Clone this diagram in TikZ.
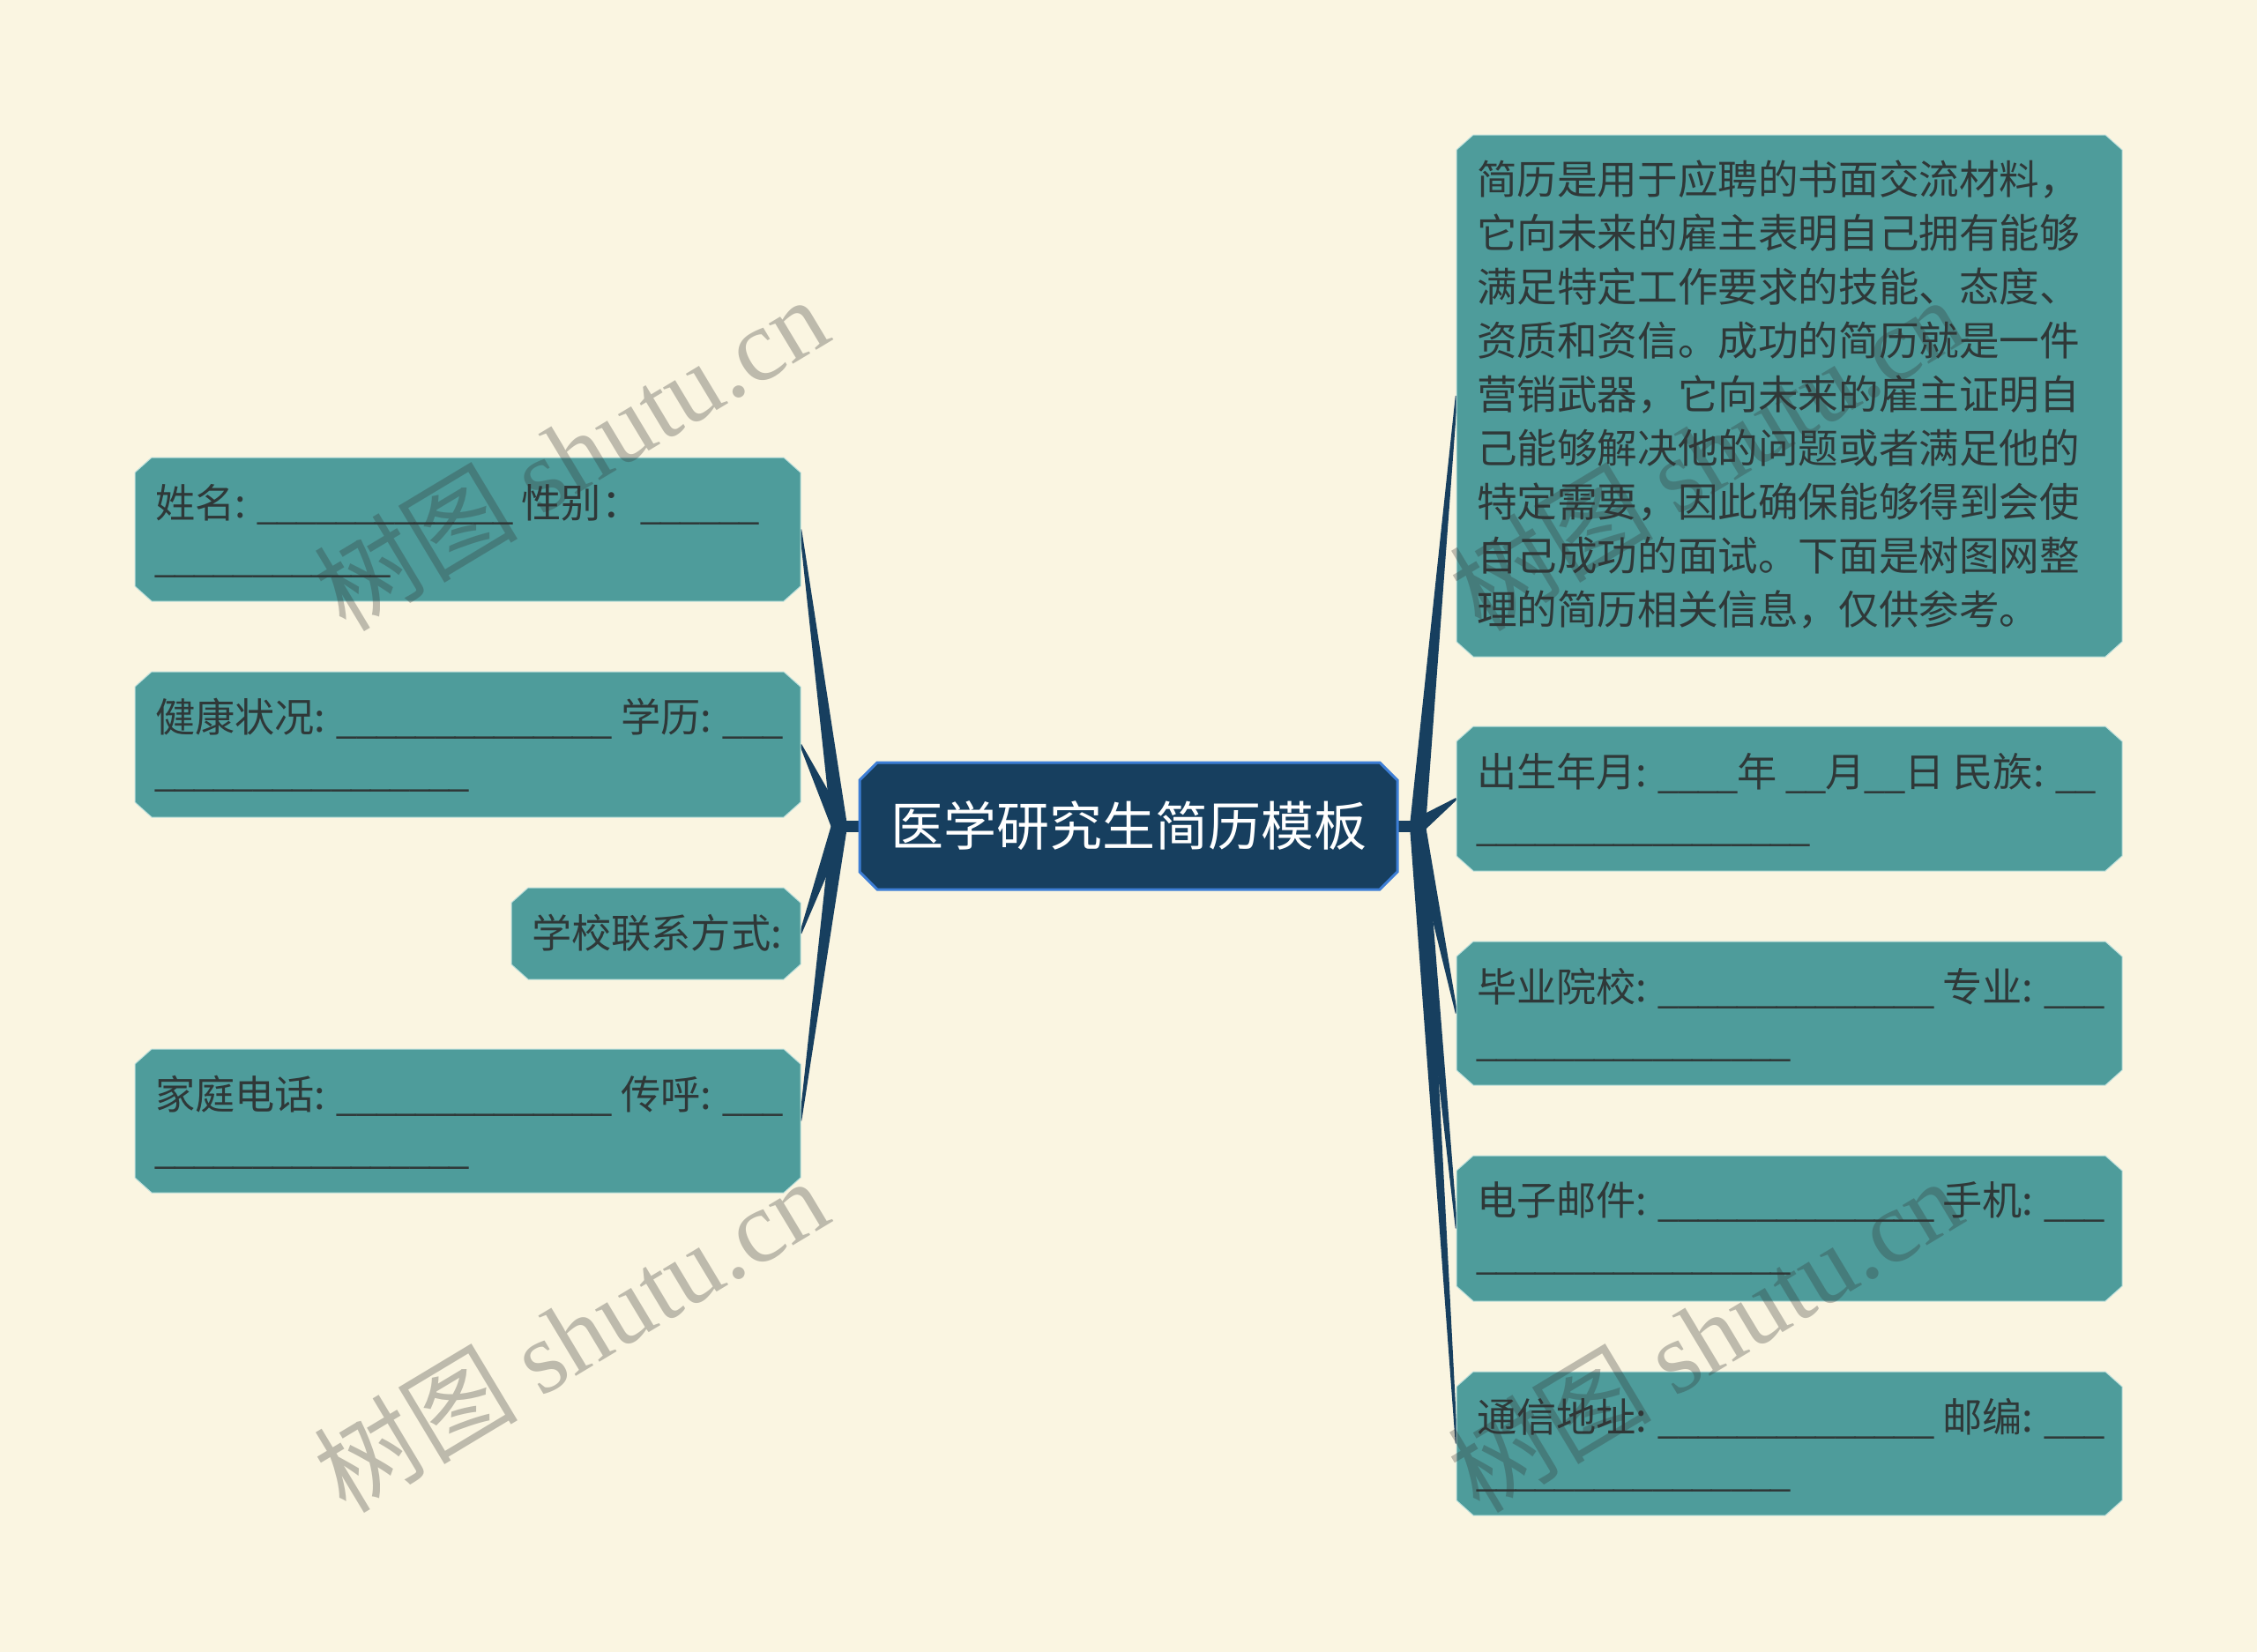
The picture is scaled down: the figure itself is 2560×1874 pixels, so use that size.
\documentclass[tikz,border=0pt]{standalone}
\usepackage{fontspec}
\setmainfont{Noto Sans CJK SC}
\newfontfamily\wmlatin{Liberation Serif}
\newfontfamily\ulfont{Liberation Sans}
\usetikzlibrary{calc}
\definecolor{bgc}{HTML}{FAF5E1}
\definecolor{tealfill}{HTML}{4E9C9B}
\definecolor{tealedge}{HTML}{BFE0DC}
\definecolor{navy}{HTML}{173F5F}
\definecolor{navyedge}{HTML}{3D7ED6}
\definecolor{leaftxt}{HTML}{2F3838}
\definecolor{wmc}{HTML}{333333}
\ExplSyntaxOn
\cs_new:Npn \blankn #1 { { \ulfont \fontsize{20pt}{30pt}\selectfont \prg_replicate:nn {#1} { \textunderscore } } }
\ExplSyntaxOff
\newcommand\chamfer[4]{\path[#2] ([xshift=#3]#1.north west) -- ([xshift=-#3]#1.north east) -- ([yshift=-#4]#1.north east) -- ([yshift=#4]#1.south east) -- ([xshift=-#3]#1.south east) -- ([xshift=#3]#1.south west) -- ([yshift=#4]#1.south west) -- ([yshift=-#4]#1.north west) -- cycle;}
\newcommand\taper[2]{\fill[conn] ($(#1)!4.5pt!90:(#2)$) -- ($(#2)!0.6pt!-90:(#1)$) -- ($(#2)!0.6pt!90:(#1)$) -- ($(#1)!4.5pt!-90:(#2)$) -- cycle;}
\tikzset{
 nodebox/.style={rectangle, draw=none, inner sep=0pt, outer sep=0pt},
 leafbox/.style={nodebox, minimum width=377.5pt},
 leaffill/.style={fill=tealfill, draw=tealedge, line width=0.5pt},
 rootfill/.style={fill=navy, draw=navyedge, line width=1.5pt},
 conn/.style={fill=navy},
 stubline/.style={draw=navy, line width=6.5pt},
 leaftext/.style={anchor=north west, inner sep=0pt, outer sep=0pt, align=left, text=leaftxt, font=\fontsize{22.6pt}{30pt}\selectfont},
 roottext/.style={inner sep=0pt, text=white, font=\fontsize{30pt}{36pt}\selectfont},
 wmark/.style={rotate=31, text=wmc, text opacity=0.3, font=\fontsize{58pt}{60pt}\selectfont, inner sep=0pt},
}
\begin{document}
\begin{tikzpicture}[x=0.5pt,y=-0.5pt]
\fill[bgc] (0,0) rectangle (2560,1874);
\useasboundingbox (0,0) rectangle (2560,1874);
% boxes
\node[nodebox, minimum width=305pt, minimum height=72pt] (C) at (1280,937) {};
\node[leafbox, minimum height=81.5pt] (L1) at (530.5,600.5) {};
\node[leafbox, minimum height=82.5pt] (L2) at (530.5,844.5) {};
\node[nodebox, minimum width=164pt, minimum height=52pt] (L3) at (744,1059) {};
\node[leafbox, minimum height=81.5pt] (L4) at (530.5,1271.5) {};
\node[leafbox, minimum height=296pt] (R1) at (2029.5,449) {};
\node[leafbox, minimum height=82pt] (R2) at (2029.5,906) {};
\node[leafbox, minimum height=81.5pt] (R3) at (2029.5,1149.5) {};
\node[leafbox, minimum height=82.5pt] (R4) at (2029.5,1393.5) {};
\node[leafbox, minimum height=81.5pt] (R5) at (2029.5,1637.5) {};
\coordinate (jl) at ([xshift=-11.5pt]C.west);
\coordinate (jr) at ([xshift=11.5pt]C.east);
% connectors
\draw[stubline] (C.west) -- (jl);
\draw[stubline] (C.east) -- (jr);
\foreach \n in {L1,L2,L3,L4} {\taper{jl}{\n.east}}
\foreach \n in {R1,R2,R3,R4,R5} {\taper{jr}{\n.west}}
% shapes
\chamfer{C}{rootfill}{10pt}{10pt}
\foreach \n in {L1,L2,L3,L4,R1,R2,R3,R4,R5} {\chamfer{\n}{leaffill}{9.5pt}{8.5pt}}
% texts
\node[roottext] (Ct) at (C.center) {医学研究生简历模板};
\node[leaftext] (L1t) at ([xshift=11.5pt,yshift=-15pt]L1.north west) {姓名: \blankn{13} 性别：\blankn{6}\\\blankn{12}};
\node[leaftext] (L2t) at ([xshift=11.5pt,yshift=-15pt]L2.north west) {健康状况: \blankn{14} 学历: \blankn{3}\\\blankn{16}};
\node[leaftext] (L3t) at ([xshift=11.5pt,yshift=-15pt]L3.north west) {学校联系方式:};
\node[leaftext] (L4t) at ([xshift=11.5pt,yshift=-15pt]L4.north west) {家庭电话: \blankn{14} 传呼: \blankn{3}\\\blankn{16}};
\node[leaftext, font=\fontsize{22.8pt}{30.5pt}\selectfont] (R1t) at ([xshift=11.5pt,yshift=-14.5pt]R1.north west) {简历是用于应聘的书面交流材料，\\它向未来的雇主表明自己拥有能够\\满足特定工作要求的技能、态度、\\资质和资信。成功的简历就是一件\\营销武器，它向未来的雇主证明自\\己能够解决他的问题或者满足他的\\特定需要，因此确保能够得到会使\\自己成功的面试。下面是树图网整\\理的简历相关信息，仅供参考。};
\node[leaftext] (R2t) at ([xshift=11.5pt,yshift=-15pt]R2.north west) {出生年月: \blankn{4}年 \blankn{2}月\blankn{2}日 民族: \blankn{2}\\\blankn{17}};
\node[leaftext] (R3t) at ([xshift=11.5pt,yshift=-15pt]R3.north west) {毕业院校: \blankn{14} 专业: \blankn{3}\\\blankn{16}};
\node[leaftext] (R4t) at ([xshift=11.5pt,yshift=-15pt]R4.north west) {电子邮件: \blankn{14} 手机: \blankn{3}\\\blankn{16}};
\node[leaftext] (R5t) at ([xshift=11.5pt,yshift=-15pt]R5.north west) {通信地址: \blankn{14} 邮编: \blankn{3}\\\blankn{16}};
% watermarks
\node[wmark] (W1) at (647,514) {树图 {\wmlatin shutu.cn}};
\node[wmark] (W2) at (647,1514) {树图 {\wmlatin shutu.cn}};
\node[wmark] (W3) at (1935,514) {树图 {\wmlatin shutu.cn}};
\node[wmark] (W4) at (1933,1514) {树图 {\wmlatin shutu.cn}};
\end{tikzpicture}
\end{document}
